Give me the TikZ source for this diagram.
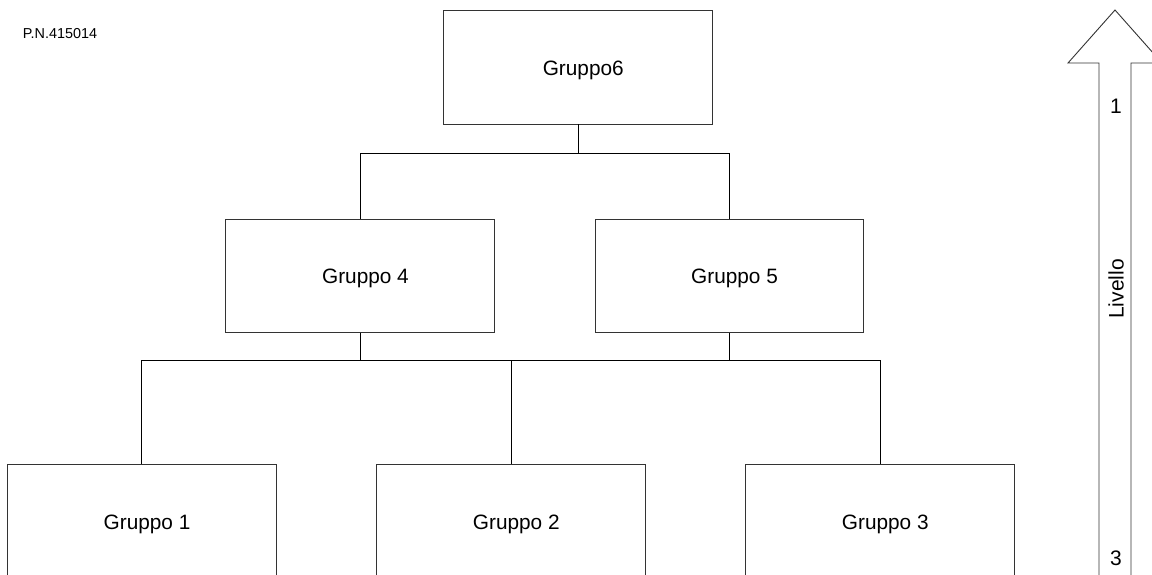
\documentclass[tikz,border=0pt]{standalone}
\usepackage{fontspec}
\setmainfont{Liberation Sans}
\begin{document}
\begin{tikzpicture}[x=1pt,y=-1pt,
  grp/.style={draw=black!80,line width=0.9pt,minimum width=268.6pt,minimum height=113.3pt,inner sep=0pt,text height=15.5pt,text depth=0pt,font=\fontsize{20.8}{24}\selectfont,execute at begin node={\hspace*{10.5pt}}},
  conn/.style={draw=black,line width=0.9pt},
  lbl/.style={inner sep=0pt,font=\fontsize{21}{24}\selectfont}]
\useasboundingbox (0,0) rectangle (1152,574);
\clip (0,0) rectangle (1152,574);
\fill[white] (0,0) rectangle (1152,574);
\node[inner sep=0pt,font=\fontsize{14.4}{17}\selectfont,anchor=west] (pn) at (22.7,33.3) {P.N.415014};
\node[grp] (g6) at (578.0,67.3) {Gruppo6};
\node[grp] (g4) at (360.2,275.7) {Gruppo 4};
\node[grp] (g5) at (729.3,275.7) {Gruppo 5};
\node[grp] (g1) at (141.8,521.3) {Gruppo 1};
\node[grp] (g2) at (511.0,521.3) {Gruppo 2};
\node[grp] (g3) at (880.0,521.3) {Gruppo 3};
\coordinate (j1) at (578.0,153.3);
\coordinate (j2) at (511.0,360.3);
\draw[conn] (g6.south) -- (j1);
\draw[conn] (g4.north) |- (j1) -| (g5.north);
\draw[conn] (g4.south) -- (g4.south |- j2);
\draw[conn] (g5.south) -- (g5.south |- j2);
\draw[conn] (g1.north) |- (j2) -| (g3.north);
\draw[conn] (g2.north) -- (j2);
% level arrow
\draw[draw=black!80,line width=0.9pt,line join=miter] (1099,620) -- (1099,63) -- (1068,63) -- (1115,10) -- (1162,63) -- (1131,63) -- (1131,620);
\node[lbl] (l1) at (1116,106) {1};
\node[lbl] (l3) at (1116,558) {3};
\node[lbl,rotate=90] (liv) at (1116,289) {Livello};
\end{tikzpicture}
\end{document}
